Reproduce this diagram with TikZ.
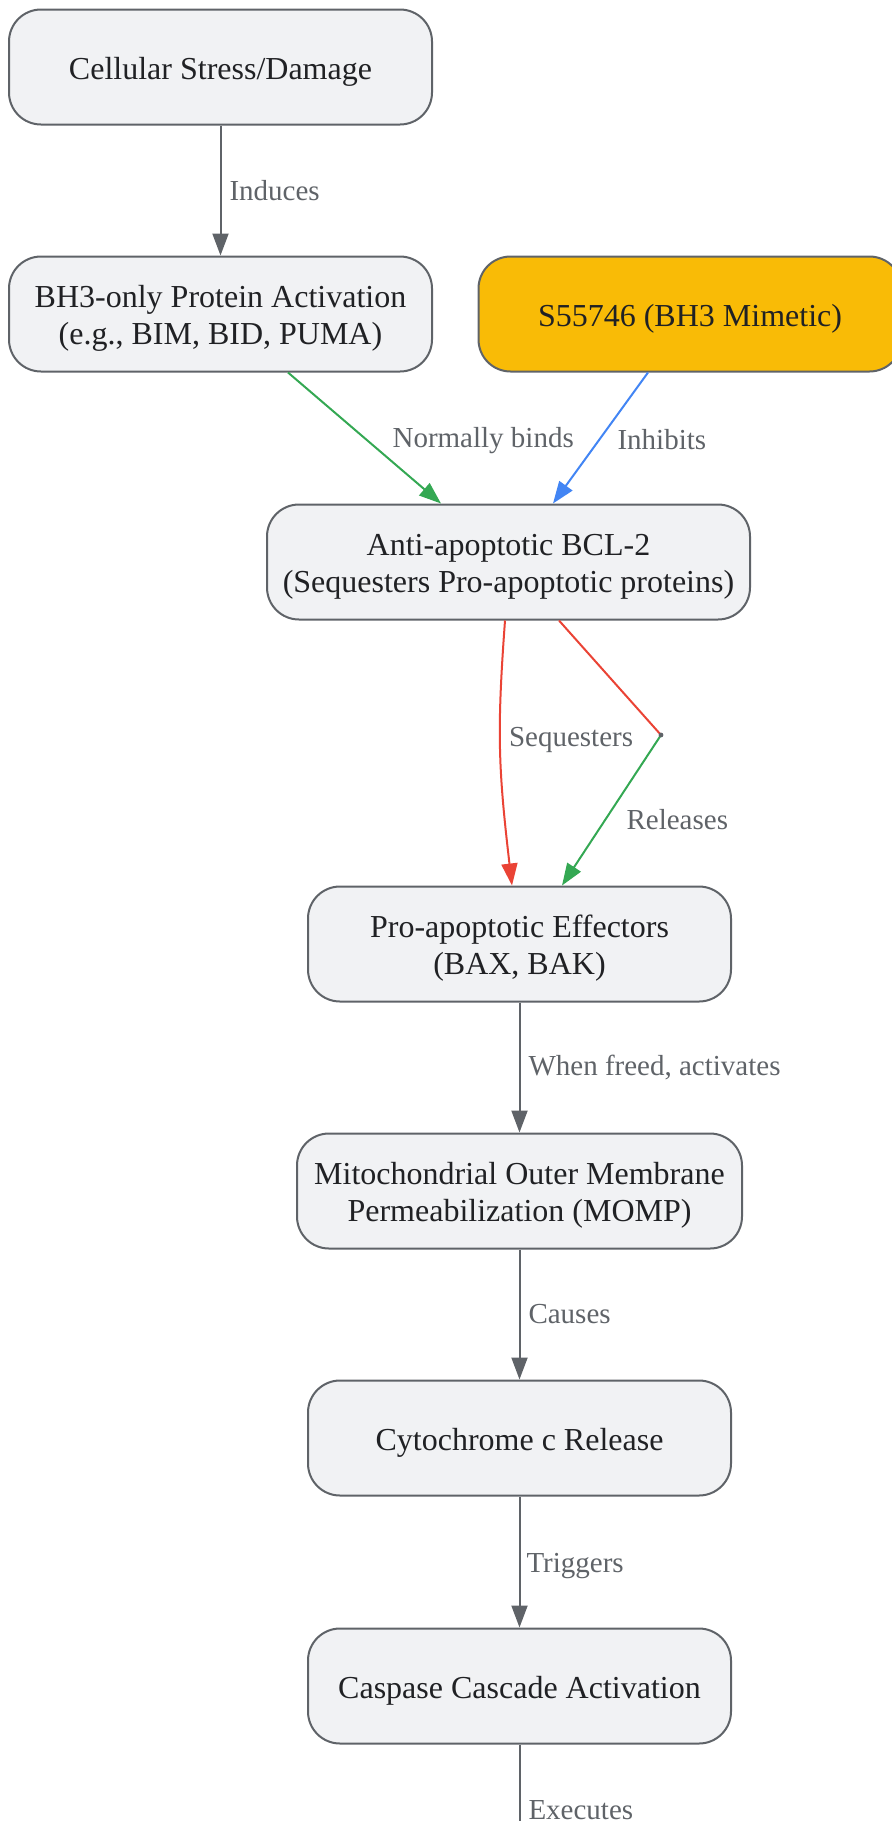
\documentclass[tikz,border=0pt]{standalone}
\usepackage{fontspec}
\setmainfont{Liberation Serif}
\usetikzlibrary{arrows.meta}

\definecolor{boxfill}{HTML}{F1F2F4}
\definecolor{boxline}{HTML}{5F6368}
\definecolor{boxtext}{HTML}{202124}
\definecolor{lbltext}{HTML}{5F6368}
\definecolor{drugyellow}{HTML}{F9BB06}
\definecolor{bindgreen}{HTML}{34A853}
\definecolor{inhibblue}{HTML}{4285F4}
\definecolor{seqred}{HTML}{EA4335}

\newcommand{\vpad}{\rule{0pt}{15.5pt}}

\begin{document}
\begin{tikzpicture}[x=0.5pt, y=-0.5pt,
    box/.style={draw=boxline, line width=1pt, fill=boxfill, rounded corners=16pt,
      minimum width=211.5pt, minimum height=57.5pt, inner sep=0pt, align=center,
      text=boxtext, font=\fontsize{16pt}{18.5pt}\selectfont},
    lbl/.style={text=lbltext, inner sep=1pt, font=\fontsize{14.5pt}{17pt}\selectfont},
    flow/.style={draw=boxline, line width=1pt, -{Triangle[length=11pt,width=8pt]}},
    bindflow/.style={flow, draw=bindgreen},
    inhibflow/.style={flow, draw=inhibblue},
    seqflow/.style={flow, draw=seqred}]
    \useasboundingbox (0,0) rectangle (892,1821);

    % draw nodes
    \node[box] (stress) at (220.5,67) {\vpad Cellular Stress/Damage};
    \node[box] (bh3) at (220.5,314) {\vpad BH3-only Protein Activation\\(e.g., BIM, BID, PUMA)};
    \node[box, fill=drugyellow] (drug) at (690,314) {\vpad S55746 (BH3 Mimetic)};
    \node[box, minimum width=241.5pt] (bcl) at (508.5,562) {\vpad Anti-apoptotic BCL-2\\(Sequesters Pro-apoptotic proteins)};
    \node[box] (eff) at (519.5,944) {\vpad Pro-apoptotic Effectors\\(BAX, BAK)};
    \node[box, minimum width=222.5pt] (momp) at (519.5,1191) {\vpad Mitochondrial Outer Membrane\\Permeabilization (MOMP)};
    \node[box] (cytc) at (519.5,1438) {\vpad Cytochrome c Release};
    \node[box] (casp) at (519.5,1686) {\vpad Caspase Cascade Activation};
    \coordinate (jn) at (661,735);
    \coordinate (death) at (519.5,1876);

    % draw upper connectors
    \draw[flow] (stress) -- node[lbl, right=3pt] {Induces} (bh3);
    \draw[bindflow] ([xshift=33.75pt]bh3.south) -- node[lbl, pos=0.52, right=11pt] {Normally binds} ([xshift=-33.75pt]bcl.north);
    \draw[inhibflow] ([xshift=-21pt]drug.south) -- node[lbl, pos=0.51, right=7.5pt] {Inhibits} ([xshift=22.25pt]bcl.north);

    % draw sequester / release paths
    \draw[seqflow] ([xshift=-1.75pt]bcl.south) .. controls +(-8,110) and +(-14,-120) ..
      node[lbl, pos=0.46, right=3pt] {Sequesters} ([xshift=-3.75pt]eff.north);
    \draw[draw=seqred, line width=1pt] ([xshift=25.25pt]bcl.south) -- (jn);
    \draw[bindflow] (jn) -- node[lbl, pos=0.56, right=9pt] {Releases} ([xshift=21.25pt]eff.north);
    \fill[boxline] (jn) circle (1.2pt);

    % draw lower connectors
    \draw[flow] (eff) -- node[lbl, right=3pt] {When freed, activates} (momp);
    \draw[flow] (momp) -- node[lbl, right=3pt] {Causes} (cytc);
    \draw[flow] (cytc) -- node[lbl, pos=0.53, right=2pt] {Triggers} (casp);
    \draw[flow] (casp) -- node[lbl, right=3pt] {Executes} (death);
\end{tikzpicture}
\end{document}
